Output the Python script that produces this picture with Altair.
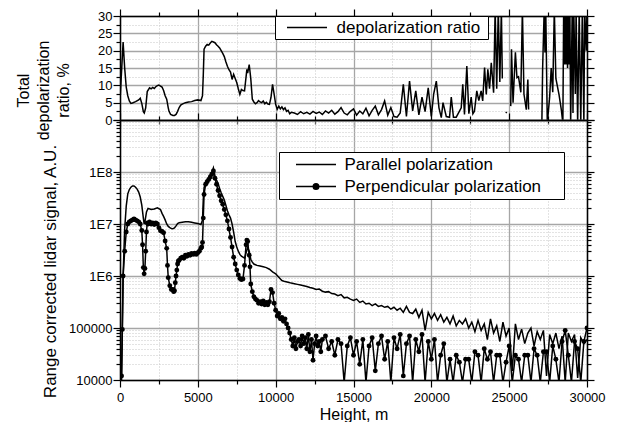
import altair as alt
import pandas as pd

# ---------------- data ----------------
SER_PAR = "Parallel polarization"
SER_PERP = "Perpendicular polarization"
SER_DEP = "depolarization ratio"

# Parallel polarization, range corrected signal (A.U.)
par_h_head = [
    0, 100, 200, 300, 400, 500, 600, 700, 800, 900,
    1000, 1100, 1200, 1300, 1400, 1500, 1550, 1600, 1700, 1800,
    2000, 2200, 2400, 2600, 2700, 2800, 2900, 3000, 3100, 3200,
    3300, 3400, 3500, 3600, 3700, 3800, 4000, 4200, 4400, 4600,
    4800, 5000, 5200, 5300, 5350, 5400, 5500, 5600, 5700, 5800,
    5900, 6000, 6100, 6200, 6300, 6400, 6500, 6600, 6700, 6800,
    6900, 7000, 7100, 7200, 7300, 7400, 7500, 7600, 7700, 7800,
    7900, 8000, 8100, 8200, 8300, 8400, 8500, 8600, 8700, 8800,
    9000, 9200, 9400, 9600, 9800]
par_v_head = [
    5e3, 1.0e4, 1.0e6, 8.0e6, 2.2e7, 3.8e7, 4.6e7, 5.1e7, 5.4e7, 5.4e7,
    5.1e7, 4.7e7, 4.1e7, 3.3e7, 2.3e7, 1.3e7, 1.0e7, 1.1e7, 1.7e7, 2.0e7,
    1.9e7, 1.95e7, 2.05e7, 1.9e7, 1.6e7, 1.4e7, 1.2e7, 1.0e7, 9.0e6, 8.5e6,
    8.2e6, 8.1e6, 8.4e6, 9.2e6, 1.02e7, 1.06e7, 1.08e7, 1.1e7, 1.1e7, 1.08e7,
    1.05e7, 1.02e7, 9.8e6, 1.2e7, 3.0e7, 5.0e7, 6.2e7, 7.0e7, 7.8e7, 8.5e7,
    9.8e7, 1.2e8, 8.5e7, 7.0e7, 6.0e7, 4.8e7, 4.0e7, 3.4e7, 2.9e7, 2.3e7,
    1.8e7, 1.5e7, 1.3e7, 1.0e7, 7.0e6, 4.6e6, 3.6e6, 3.0e6, 2.6e6, 2.4e6,
    2.3e6, 2.2e6, 2.8e6, 3.5e6, 3.0e6, 2.1e6, 1.85e6, 1.7e6, 1.65e6, 1.6e6,
    1.55e6, 1.5e6, 1.45e6, 1.35e6, 1.2e6]
par_h_tail = list(range(10000, 30001, 200))
par_v_tail = [
    1.1e6, 9.5e5, 8.2e5, 7.8e5, 7.6e5, 7.3e5, 7.1e5, 6.9e5, 6.7e5, 6.5e5,
    6.3e5, 6.0e5, 5.8e5, 5.5e5, 5.6e5, 5.1e5, 4.9e5, 5.0e5, 4.6e5, 4.5e5,
    4.2e5, 4.4e5, 3.8e5, 3.9e5, 3.6e5, 3.4e5, 3.6e5, 3.1e5, 3.3e5, 2.9e5,
    3.0e5, 2.7e5, 2.9e5, 2.6e5, 2.7e5, 2.5e5, 2.6e5, 2.3e5, 2.5e5, 2.2e5,
    2.4e5, 2.0e5, 2.6e5, 2.0e5, 1.9e5, 2.3e5, 1.6e5, 2.2e5, 9.0e4, 2.0e5,
    1.5e5, 1.9e5, 1.4e5, 1.8e5, 1.3e5, 1.6e5, 1.2e5, 1.7e5, 1.1e5, 1.4e5,
    1.2e5, 1.5e5, 1.0e5, 1.3e5, 8.5e4, 1.4e5, 9.0e4, 1.2e5, 6.0e4, 1.5e5,
    8.0e4, 1.1e5, 5.5e4, 1.3e5, 7.0e4, 1.0e5, 1.5e4, 1.2e5, 6.0e4, 9.5e4,
    5.0e4, 8.0e4, 1.0e5, 4.5e4, 8.5e4, 6.0e4, 9.0e4, 1.2e4, 7.5e4, 5.0e4,
    8.0e4, 4.0e4, 7.0e4, 9.0e3, 8.0e4, 5.5e4, 7.5e4, 1.1e4, 6.5e4, 5.0e4,
    6.0e4]

# Perpendicular polarization, range corrected signal (A.U.)
perp_h_head = [
    0, 100, 150, 200, 300, 400, 500, 600, 700, 800,
    900, 1000, 1100, 1200, 1300, 1400, 1450, 1500, 1550, 1600,
    1650, 1700, 1750, 1800, 1900, 2000, 2100, 2200, 2300, 2400,
    2500, 2600, 2700, 2800, 2900, 3000, 3050, 3100, 3200, 3300,
    3400, 3450, 3500, 3550, 3600, 3650, 3700, 3750, 3800, 3900,
    4000, 4100, 4200, 4300, 4400, 4500, 4600, 4700, 4800, 4900,
    5000, 5100, 5200, 5250, 5300, 5350, 5400, 5500, 5600, 5700,
    5800, 5900, 6000, 6100, 6200, 6300, 6400, 6500, 6600, 6700,
    6800, 6900, 7000, 7100, 7200, 7300, 7400, 7500, 7600, 7700,
    7800, 7900, 8000, 8100, 8150, 8200, 8300, 8350, 8400, 8500,
    8600, 8700, 8800, 8900, 9000, 9100, 9200, 9300, 9400, 9500,
    9600, 9700, 9800, 9900, 10000, 10100, 10200, 10300, 10400, 10500,
    10600, 10700, 10800, 10900, 11000, 11100, 11200, 11300, 11400, 11500,
    11600, 11700, 11800, 11900, 12000, 12100, 12200, 12300, 12400, 12500,
    12600, 12700, 12800, 12900, 13000]
perp_v_head = [
    5e3, 1.2e4, 9.4e4, 1.0e6, 3.0e6, 7.0e6, 1.0e7, 1.1e7, 1.15e7, 1.2e7,
    1.25e7, 1.2e7, 1.15e7, 1.1e7, 1.0e7, 7.5e6, 4.0e6, 1.45e6, 1.1e6, 1.4e6,
    3.0e6, 7.0e6, 1.05e7, 1.0e7, 1.1e7, 1.0e7, 1.05e7, 9.8e6, 1.05e7, 1.0e7,
    8.5e6, 7.4e6, 7.2e6, 6.8e6, 4.7e6, 3.4e6, 1.6e6, 9.3e5, 6.5e5, 5.5e5,
    5.5e5, 5.0e5, 5.2e5, 7.4e5, 1.0e6, 1.3e6, 1.7e6, 1.95e6, 2.0e6, 2.2e6,
    2.3e6, 2.2e6, 2.5e6, 2.4e6, 2.6e6, 2.5e6, 2.7e6, 2.6e6, 2.75e6, 2.6e6,
    2.8e6, 3.0e6, 3.4e6, 3.6e6, 4.4e6, 1.3e7, 3.7e7, 5.8e7, 6.5e7, 7.2e7,
    8.0e7, 9.1e7, 1.05e8, 7.6e7, 5.8e7, 4.4e7, 3.5e7, 2.8e7, 2.4e7, 1.9e7,
    1.5e7, 1.15e7, 8.0e6, 5.5e6, 3.6e6, 2.3e6, 1.7e6, 1.3e6, 1.05e6, 9.0e5,
    8.5e5, 8.8e5, 1.6e6, 4.0e6, 4.9e6, 4.6e6, 2.5e6, 1.5e6, 7.0e5, 5.0e5,
    4.0e5, 3.6e5, 3.4e5, 3.0e5, 3.2e5, 2.9e5, 3.3e5, 2.8e5, 3.1e5, 2.8e5,
    3.2e5, 5.5e5, 4.8e5, 3.0e5, 2.2e5, 1.7e5, 1.9e5, 1.5e5, 1.6e5, 1.35e5,
    1.5e5, 1.2e5, 1.0e5, 8.0e4, 6.0e4, 4.5e4, 6.5e4, 4.0e4, 5.5e4, 6.0e4,
    4.5e4, 7.0e4, 5.0e4, 6.5e4, 4.0e4, 7.5e4, 3.5e4, 6.0e4, 2.4e4, 5.0e4,
    7.0e4, 4.5e4, 5.5e4, 3.5e4, 6.0e4]
perp_h_tail = list(range(13200, 30001, 200))
perp_v_tail = [
    7.0e4, 4.0e4, 5.5e4, 3.0e4, 6.0e4, 5.0e4, 9.0e3, 4.5e4, 6.5e4, 3.0e4,
    5.5e4, 2.0e4, 6.0e4, 9.0e3, 4.5e4, 6.5e4, 1.5e4, 5.0e4, 7.0e4, 2.5e4,
    5.5e4, 9.0e3, 6.5e4, 4.0e4, 7.5e4, 1.2e4, 5.0e4, 7.0e4, 9.0e3, 6.0e4,
    3.5e4, 7.5e4, 9.0e3, 5.5e4, 2.5e4, 6.0e4, 9.0e3, 3.0e4, 5.0e4, 9.0e3,
    2.5e4, 9.0e3, 3.0e4, 2.2e4, 9.0e3, 2.5e4, 2.5e4, 9.0e3, 3.5e4, 3.0e4,
    9.0e3, 4.0e4, 2.5e4, 3.5e4, 9.0e3, 3.0e4, 3.0e4, 9.0e3, 2.2e4, 4.5e4,
    9.0e3, 3.0e4, 2.5e4, 9.0e3, 3.0e4, 3.0e4, 9.0e3, 4.0e4, 3.0e4, 9.0e3,
    3.5e4, 3.5e4, 9.0e3, 4.5e4, 2.5e4, 9.0e3, 5.5e4, 9.0e4, 3.0e4, 9.0e3,
    5.5e4, 4.0e4, 9.0e3, 5.5e4, 1.0e5]

# Total depolarization ratio, % (None = no data)
depol_h = [
    0, 200, 300, 400, 500, 600, 700, 800, 1000, 1200,
    1300, 1400, 1500, 1560, 1650, 1750, 1900, 2000, 2100, 2200,
    2300, 2400, 2500, 2600, 2700, 2800, 2900, 3000, 3100, 3150,
    3250, 3400, 3500, 3600, 3700, 3800, 3900, 4000, 4200, 4400,
    4600, 4800, 5000, 5200, 5300, 5350, 5400, 5500, 5600, 5700,
    5800, 5900, 6000, 6100, 6200, 6300, 6400, 6500, 6600, 6700,
    6800, 6900, 7000, 7100, 7200, 7300, 7400, 7500, 7600, 7700,
    7800, 7900, 8000, 8100, 8150, 8200, 8300, 8400, 8500, 8600,
    8700, 8800, 8900, 9000, 9100, 9200, 9300, 9400, 9500, 9600,
    9700, 9800, 9900, 10000, 10100, 10200, 10300, 10400, 10500, 10600,
    10700, 10800, 10900, 11000, 11200, 11400, 11600, 11800, 12000, 12200,
    12400, 12600, 12800, 13000, 13200, 13400, 13600, 13800, 14000, 14200,
    14400, 14600, 14800, 15000, 15200, 15400, 15600, 15800, 16000, 16200,
    16400, 16600, 16800, 17000, 17200, 17400, 17600, 17800, 18000, 18200,
    18400, 18600, 18800, 19000, 19200, 19400, 19600, 19800, 20000, 20150,
    20320, 20490, 20640, 20750, 20960, 21170, 21280, 21420, 21600, 21920,
    22020, 22130, 22280, 22410, 22560, 22670, 22770, 22920, 23050, 23200,
    23300, 23420, 23530, 23630, 23740, 23850, 24000, 24100, 24200, 24300,
    24400, 24500, 24560, 24650, 24780, 24850, 24950, 25100, 25150, 25250,
    25400, 25500, 25600, 25750, 25850, 25950, 26100, 26200, 26250, 26600,
    27100, 27150, 27250, 27300, 27350, 27450, 27600, 27700, 27800, 27900,
    28000, 28200, 28350, 28450, 28500, 28550, 28600, 28650, 28700, 28750,
    28800, 28850, 28900, 28950, 29050, 29100, 29150, 29250, 29300, 29400,
    29500, 29600, 29700, 29800, 29850, 29950, 30000]
depol_v = [
    5.5, 22.5, 15.0, 9.5, 7.0, 5.5, 4.8, 4.9, 5.3, 5.8,
    6.3, 4.8, 2.4, 2.0, 3.5, 8.2, 9.3, 9.0, 9.4, 9.1,
    9.6, 9.9, 10.1, 9.8, 9.5, 8.5, 7.0, 6.0, 3.5, 2.5,
    1.6, 1.3, 1.3, 1.6, 2.5, 3.6, 4.3, 4.6, 5.0, 5.2,
    5.3, 5.6, 5.8, 5.6, 7.0, 13.0, 20.4, 21.3, 21.8, 21.6,
    22.2, 22.7, 22.5, 22.3, 21.7, 21.3, 20.8, 20.0, 19.2, 18.3,
    16.8, 15.5, 14.5, 13.8, 11.7, 13.2, 12.0, 10.8, 9.0, 7.4,
    8.8, 8.5, 8.4, 12.5, 14.6, 13.5, 16.0, 12.0, 6.0, 5.2,
    4.7, 5.0, 5.6, 5.2, 5.0, 5.5, 4.7, 5.1, 4.6, 4.5,
    6.5, 10.3, 7.5, 4.5, 3.1, 4.0, 3.2, 3.8, 3.0, 3.5,
    2.5, 2.8, 1.8, 2.2, 2.0, 1.6, 2.4, 1.8, 2.2, 1.7,
    2.5, 1.9, 2.3, 1.6, 2.6, 2.0, 2.8, 1.7, 2.4, 3.6,
    2.0, 1.5, 2.5, 3.2, 1.4, 2.6, 1.8, 3.4, 1.2, 2.8,
    4.0, 1.5, 3.0, 5.5, 1.4, 3.6, 1.0, 0.8, 2.0, 10.3,
    1.0, 11.2, 2.6, 8.4, 1.5, 6.6, 2.4, 9.3, 1.0, 7.5,
    11.2, 3.5, 0.7, 5.0, 1.0, 0.8, 6.6, 0.8, 0.8, 3.5,
    10.3, 1.6, 15.6, 1.8, 6.6, 1.8, 2.5, 8.4, 5.6, 8.4,
    5.5, 15.1, 7.4, 14.6, 9.0, 16.5, 7.9, 32, 9.0, 32,
    11.0, 32, 12.0, None, 2.3, 2.0, None, 4.0, 20.4, 5.0,
    19.5, 12.2, 12.5, 8.0, 32, 7.5, 3.0, 11.7, 3.0, None,
    -1, 15.0, 32, 19.5, 32, -1, 6.6, 15.0, 8.0, 32,
    12.0, 7.4, 3.0, -1, 32, 16.0, 32, 16.0, 32, 15.0,
    32, 16.0, 32, -1, 32, 2.0, 32, 7.5, 32, -1,
    32, -1, 32, -1, 32, 20.0, 32]

# axis tick positions
x_ticks = [0, 2500, 5000, 7500, 10000, 12500, 15000, 17500, 20000,
           22500, 25000, 27500, 30000]
dep_ticks = [0, 2.5, 5, 7.5, 10, 12.5, 15, 17.5, 20, 22.5, 25, 27.5, 30]
sig_ticks = [m * 10 ** k for k in range(4, 9) for m in range(1, 10)] + [10 ** 9]

assert len(par_h_head) == len(par_v_head)
assert len(par_h_tail) == len(par_v_tail)
assert len(perp_h_head) == len(perp_v_head)
assert len(perp_h_tail) == len(perp_v_tail)
assert len(depol_h) == len(depol_v)

# ---------------- tables ----------------
par_df = pd.DataFrame({"h": par_h_head + par_h_tail, "v": par_v_head + par_v_tail})
par_df["series"] = SER_PAR
perp_df = pd.DataFrame({"h": perp_h_head + perp_h_tail, "v": perp_v_head + perp_v_tail})
perp_df["series"] = SER_PERP
sig_df = pd.concat([par_df, perp_df], ignore_index=True)

dep_df = pd.DataFrame({"h": depol_h, "v": depol_v})
dep_df["seg"] = dep_df["v"].isna().cumsum()
dep_df = dep_df.dropna().reset_index(drop=True)
dep_df["series"] = SER_DEP

# ---------------- styling ----------------
FONT = "Liberation Sans"
W, H_TOP, H_BOT = 467, 104, 260
NB = "\u00a0"
ZW = "\u200b"

MAJ_X = "datum.value % 5000 == 0"
MAJ_D = "datum.value % 5 == 0"
MAJ_L = "abs(log(datum.value) / LN10 - round(log(datum.value) / LN10)) < 0.001"


def cond(test, a, b):
    return {"condition": {"test": test, "value": a}, "value": b}


def grid_props(test):
    return dict(
        grid=True,
        gridColor=cond(test, "#a6a6a6", "#c6c6c6"),
        gridDash=cond(test, [], [1, 2]),
        gridWidth=cond(test, 1.3, 1),
    )


def mirror(orient, values, test):
    return alt.Axis(orient=orient, values=values, labels=False, title=None,
                    grid=False, tickSize=cond(test, 7, 4))


xscale = alt.Scale(domain=[0, 30000], nice=False)
dscale = alt.Scale(domain=[0, 30], nice=False)
sscale = alt.Scale(type="log", domain=[1e4, 1e9], nice=False)

# ---------------- top panel ----------------
top_legend = alt.Legend(
    orient="none", legendX=155, legendY=0, title=None,
    symbolType="M-4,0H4", symbolSize=100, symbolStrokeWidth=1.5,
    symbolStrokeColor="black", symbolFillColor="black",
    symbolOffset=20.5, labelOffset=21, padding=3,
    labelFont=FONT, labelFontSize=17, labelColor="black", labelLimit=400,
    strokeColor="black", fillColor="white", cornerRadius=0,
    labelExpr="datum.label + '" + NB + ZW + "'",
)

top_line = alt.Chart(dep_df).mark_line(strokeWidth=1.5, clip=True).encode(
    x=alt.X("h:Q", scale=xscale, axis=alt.Axis(
        orient="bottom", values=x_ticks, labels=False, title=None,
        tickSize=cond(MAJ_X, 7, 4), **grid_props(MAJ_X))),
    y=alt.Y("v:Q", scale=dscale, axis=alt.Axis(
        orient="left", values=dep_ticks,
        labelExpr=MAJ_D + " ? format(datum.value, 'd') : ''",
        labelPadding=1, tickSize=cond(MAJ_D, 7, 4),
        title=["Total", "depolarization", "ratio, %"],
        titleX=-97, titleY=74, titleAngle=270, titleAlign="center",
        titleBaseline="middle", titleLineHeight=20, titleFontSize=16,
        **grid_props(MAJ_D))),
    detail="seg:N",
    color=alt.Color("series:N", scale=alt.Scale(range=["black"]), legend=top_legend),
)
top_mirror = alt.Chart(dep_df).mark_line(opacity=0).encode(
    x=alt.X("h:Q", scale=xscale, axis=mirror("top", x_ticks, MAJ_X)),
    y=alt.Y("v:Q", scale=dscale, axis=mirror("right", dep_ticks, MAJ_D)),
)
top = alt.layer(top_mirror, top_line).resolve_axis(
    x="independent", y="independent").properties(width=W, height=H_TOP)

# ---------------- bottom panel ----------------
perp_sym = ("M-4,0H4M-0.55,0A0.55,0.55,0,1,0,0.55,0"
            "A0.55,0.55,0,1,0,-0.55,0")
bot_legend = alt.Legend(
    orient="none", legendX=159, legendY=32, title=None,
    symbolType={"expr": "datum.value == '" + SER_PERP + "' ? '" + perp_sym + "' : 'M-4,0H4'"},
    symbolSize=100, symbolStrokeWidth=1.5,
    symbolStrokeColor="black", symbolFillColor="black",
    symbolOffset=24.5, labelOffset=20, padding=4, rowPadding=4,
    labelFont=FONT, labelFontSize=17, labelColor="black", labelLimit=400,
    strokeColor="black", fillColor="white", cornerRadius=0,
    labelExpr="datum.label + '" + NB * 4 + ZW + "'",
)

sig_labels = ("datum.value == 10000 ? '10000' : datum.value == 100000 ? '100000' : "
              "datum.value == 1000000 ? '1E6' : datum.value == 10000000 ? '1E7' : "
              "datum.value == 100000000 ? '1E8' : ''")

bot_lines = alt.Chart(sig_df).mark_line(strokeWidth=1.5, clip=True).encode(
    x=alt.X("h:Q", scale=xscale, axis=alt.Axis(
        orient="bottom", values=x_ticks,
        labelExpr=MAJ_X + " ? format(datum.value, 'd') : ''",
        labelPadding=4, tickSize=cond(MAJ_X, 7, 4),
        title="Height, m", titleFontSize=16, titlePadding=2,
        **grid_props(MAJ_X))),
    y=alt.Y("v:Q", scale=sscale, axis=alt.Axis(
        orient="left", values=sig_ticks, labelExpr=sig_labels,
        labelPadding=1, tickSize=cond(MAJ_L, 7, 4),
        title="Range corrected lidar signal, A.U.",
        titleX=-69.5, titleY=151, titleAngle=270, titleAlign="center",
        titleBaseline="middle", titleFontSize=17,
        **grid_props(MAJ_L))),
    detail="series:N",
    color=alt.Color("series:N", scale=alt.Scale(range=["black", "black"]),
                    legend=bot_legend),
)
bot_points = alt.Chart(perp_df).mark_circle(size=24, color="black", opacity=1,
                                           clip=True).encode(
    x=alt.X("h:Q", scale=xscale, axis=None),
    y=alt.Y("v:Q", scale=sscale, axis=None),
)
bot_mirror = alt.Chart(sig_df).mark_line(opacity=0).encode(
    x=alt.X("h:Q", scale=xscale, axis=mirror("top", x_ticks, MAJ_X)),
    y=alt.Y("v:Q", scale=sscale, axis=mirror("right", sig_ticks, MAJ_L)),
)
bottom = alt.layer(bot_mirror, bot_lines, bot_points).resolve_axis(
    x="independent", y="independent").properties(width=W, height=H_BOT)

chart = alt.vconcat(top, bottom, spacing=0, bounds="flush").resolve_scale(
    color="independent"
).properties(
    padding={"left": 7, "top": 0, "right": 0, "bottom": 0}
).configure_axis(
    labelFont=FONT, labelFontSize=13, labelColor="black",
    titleFont=FONT, titleFontWeight="normal", titleColor="black",
    tickColor="black", domainColor="black", domainWidth=1.5, tickWidth=1.2,
    labelFlush=False, labelOverlap=False,
).configure_view(stroke=None)

chart.save("out.html", embed_options={"renderer": "svg", "actions": False})
